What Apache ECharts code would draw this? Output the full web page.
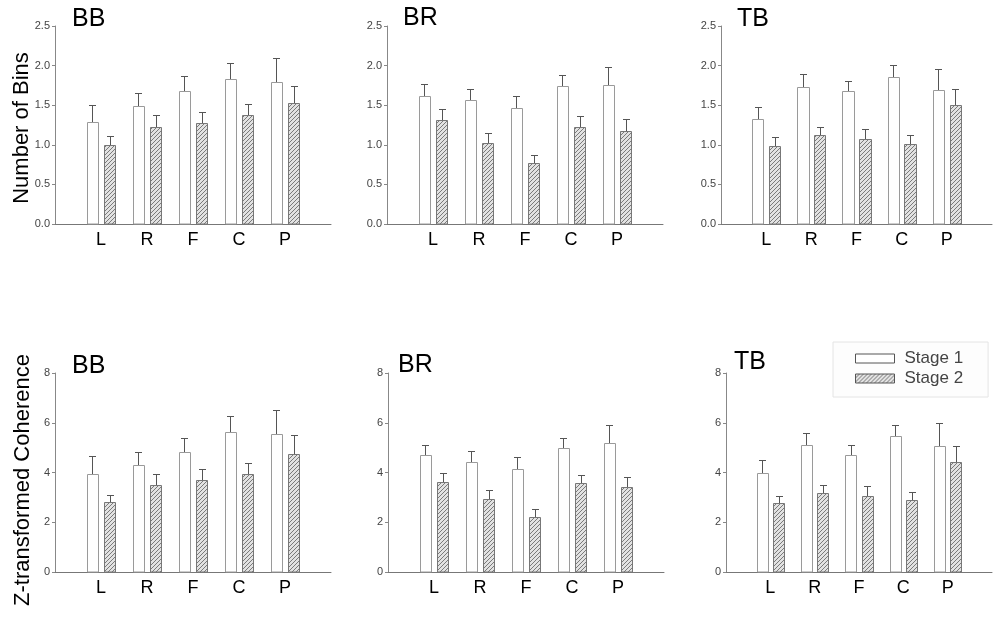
<!DOCTYPE html>
<html>
<head>
<meta charset="utf-8">
<script src="https://cdn.jsdelivr.net/npm/echarts@6/dist/echarts.min.js"></script>
<style>html,body{margin:0;padding:0;background:#fff;}#c{width:995px;height:620px;}</style>
</head>
<body>
<div id="c"></div>
<script>
// ---------- data ----------
const categories = ['L', 'R', 'F', 'C', 'P'];
const panelNames = ['BB', 'BR', 'TB'];
const seriesNames = ['Stage 1', 'Stage 2'];

// Top row: Number of Bins (mean, standard error)
const binsBBStage1 = [1.29, 1.49, 1.68, 1.83, 1.79];
const binsBBStage1Err = [0.21, 0.17, 0.19, 0.20, 0.30];
const binsBBStage2 = [1.00, 1.22, 1.27, 1.38, 1.53];
const binsBBStage2Err = [0.11, 0.15, 0.15, 0.14, 0.21];

const binsBRStage1 = [1.62, 1.56, 1.47, 1.74, 1.75];
const binsBRStage1Err = [0.15, 0.14, 0.15, 0.14, 0.23];
const binsBRStage2 = [1.31, 1.02, 0.77, 1.23, 1.18];
const binsBRStage2Err = [0.14, 0.13, 0.10, 0.13, 0.14];

const binsTBStage1 = [1.32, 1.73, 1.68, 1.86, 1.69];
const binsTBStage1Err = [0.16, 0.16, 0.13, 0.15, 0.27];
const binsTBStage2 = [0.99, 1.12, 1.07, 1.01, 1.50];
const binsTBStage2Err = [0.11, 0.11, 0.13, 0.11, 0.21];

// Bottom row: Z-transformed Coherence (mean, standard error)
const cohBBStage1 = [3.94, 4.31, 4.82, 5.63, 5.55];
const cohBBStage1Err = [0.71, 0.51, 0.57, 0.63, 0.98];
const cohBBStage2 = [2.80, 3.49, 3.69, 3.95, 4.76];
const cohBBStage2Err = [0.31, 0.45, 0.46, 0.43, 0.73];

const cohBRStage1 = [4.69, 4.43, 4.16, 4.99, 5.18];
const cohBRStage1Err = [0.42, 0.44, 0.45, 0.40, 0.74];
const cohBRStage2 = [3.63, 2.92, 2.22, 3.56, 3.41];
const cohBRStage2Err = [0.36, 0.37, 0.30, 0.35, 0.42];

const cohTBStage1 = [3.98, 5.11, 4.72, 5.47, 5.07];
const cohTBStage1Err = [0.51, 0.46, 0.39, 0.43, 0.90];
const cohTBStage2 = [2.76, 3.17, 3.06, 2.88, 4.41];
const cohTBStage2Err = [0.31, 0.31, 0.39, 0.33, 0.64];

const binsTicks = [0, 0.5, 1.0, 1.5, 2.0, 2.5];
const cohTicks = [0, 2, 4, 6, 8];

// ---------- styling helpers ----------
const FONT = "'Liberation Sans', Arial, sans-serif";
function makeHatch() {
  const c = document.createElement('canvas');
  c.width = 4; c.height = 4;
  const g = c.getContext('2d');
  g.fillStyle = '#e2e2e2';
  g.fillRect(0, 0, 4, 4);
  g.strokeStyle = '#7a7a7a';
  g.lineWidth = 1;
  g.beginPath();
  g.moveTo(-1, 5); g.lineTo(5, -1);
  g.moveTo(-1, 1); g.lineTo(1, -1);
  g.moveTo(3, 5); g.lineTo(5, 3);
  g.stroke();
  return { image: c, repeat: 'repeat' };
}
const hatch = makeHatch();

const BAR_W = 0.25;
const OFFSET = 0.185;

function makeRender(offset, fill, stroke) {
  return function (params, api) {
    const x = api.value(0), y = api.value(1), e = api.value(2);
    const base = api.coord([x + offset, 0]);
    const top = api.coord([x + offset, y]);
    const cap = api.coord([x + offset, y + e]);
    const w = api.size([BAR_W, 0])[0];
    const left = Math.round(base[0] - w / 2) + 0.5;
    const right = Math.round(base[0] + w / 2) + 0.5;
    const cx = Math.round(base[0]) + 0.5;
    const ty = Math.round(top[1]) + 0.5;
    const by = Math.round(base[1]);
    const cy = Math.round(cap[1]) + 0.5;
    return {
      type: 'group',
      children: [
        { type: 'line', shape: { x1: cx, y1: ty, x2: cx, y2: cy }, style: { stroke: '#555', lineWidth: 1 } },
        { type: 'line', shape: { x1: cx - 3.5, y1: cy, x2: cx + 3.5, y2: cy }, style: { stroke: '#555', lineWidth: 1 } },
        { type: 'rect', shape: { x: left, y: ty, width: right - left, height: by - ty }, style: { fill: fill, stroke: stroke, lineWidth: 1 } }
      ]
    };
  };
}

// ---------- layout ----------
const grids = [
  { left: 55, top: 26, width: 276, height: 198 },
  { left: 387, top: 26, width: 276, height: 198 },
  { left: 721, top: 26, width: 276, height: 198 },
  { left: 55, top: 373, width: 276, height: 199 },
  { left: 388, top: 373, width: 276, height: 199 },
  { left: 726, top: 373, width: 273, height: 199 }
];

const panelData = [
  [binsBBStage1, binsBBStage1Err, binsBBStage2, binsBBStage2Err],
  [binsBRStage1, binsBRStage1Err, binsBRStage2, binsBRStage2Err],
  [binsTBStage1, binsTBStage1Err, binsTBStage2, binsTBStage2Err],
  [cohBBStage1, cohBBStage1Err, cohBBStage2, cohBBStage2Err],
  [cohBRStage1, cohBRStage1Err, cohBRStage2, cohBRStage2Err],
  [cohTBStage1, cohTBStage1Err, cohTBStage2, cohTBStage2Err]
];

const xAxes = [], yAxes = [], series = [];
panelData.forEach(function (pd, i) {
  const isTop = i < 3;
  const ticks = isTop ? binsTicks : cohTicks;
  xAxes.push({
    gridIndex: i, type: 'value', min: 0, max: 6, interval: 1,
    axisLine: { lineStyle: { color: '#777', width: 1 } },
    axisTick: { show: false },
    splitLine: { show: false },
    axisLabel: {
      margin: 7, fontSize: 18, color: '#000', fontFamily: FONT,
      formatter: function (v) { return categories[v - 1] || ''; }
    }
  });
  yAxes.push({
    gridIndex: i, type: 'value', min: ticks[0], max: ticks[ticks.length - 1],
    interval: ticks[1] - ticks[0],
    axisLine: { show: true, lineStyle: { color: '#888', width: 1 } },
    axisTick: { show: true, length: 3, lineStyle: { color: '#888' } },
    splitLine: { show: false },
    axisLabel: {
      margin: 5, fontSize: 11, color: '#444', fontFamily: FONT,
      formatter: function (v) { return isTop ? v.toFixed(1) : String(v); }
    }
  });
  const d1 = categories.map(function (c, k) { return [k + 1, pd[0][k], pd[1][k]]; });
  const d2 = categories.map(function (c, k) { return [k + 1, pd[2][k], pd[3][k]]; });
  series.push({
    name: seriesNames[0], type: 'custom', xAxisIndex: i, yAxisIndex: i,
    renderItem: makeRender(-OFFSET, '#fff', '#9a9a9a'),
    itemStyle: { color: '#fff', borderColor: '#666', borderWidth: 1 },
    data: d1, silent: true
  });
  series.push({
    name: seriesNames[1], type: 'custom', xAxisIndex: i, yAxisIndex: i,
    renderItem: makeRender(OFFSET, hatch, '#777'),
    itemStyle: { color: hatch, borderColor: '#555', borderWidth: 1 },
    data: d2, silent: true
  });
});

const titlePos = [[72, 7], [403, 6], [737, 7], [72, 354], [398, 353], [734, 350]];
const titles = titlePos.map(function (p, i) {
  return {
    text: panelNames[i % 3], left: p[0], top: p[1], padding: 0,
    textStyle: { fontSize: 25, fontWeight: 'normal', color: '#000', fontFamily: FONT }
  };
});

const option = {
  animation: false,
  backgroundColor: '#fff',
  title: titles,
  grid: grids,
  xAxis: xAxes,
  yAxis: yAxes,
  series: series,
  legend: {
    left: 833, top: 342,
    orient: 'vertical',
    icon: 'rect',
    itemWidth: 39, itemHeight: 9, itemGap: 3,
    padding: [8, 25, 10, 22],
    borderColor: '#e4e4e4', borderWidth: 1, backgroundColor: '#fdfdfd',
    selectedMode: false,
    textStyle: { fontSize: 17, color: '#444', fontFamily: FONT, padding: [0, 0, 0, 5] },
    data: [
      { name: 'Stage 1', itemStyle: { color: '#fff', borderColor: '#555', borderWidth: 1 } },
      { name: 'Stage 2', itemStyle: { color: hatch, borderColor: '#555', borderWidth: 1 } }
    ]
  },
  graphic: [
    { type: 'text', x: 22, y: 128, rotation: Math.PI / 2,
      style: { text: 'Number of Bins', fontSize: 22, fontFamily: FONT, fill: '#000', textAlign: 'center', textVerticalAlign: 'middle' } },
    { type: 'text', x: 23, y: 480, rotation: Math.PI / 2,
      style: { text: 'Z-transformed Coherence', fontSize: 22, fontFamily: FONT, fill: '#000', textAlign: 'center', textVerticalAlign: 'middle' } }
  ]
};

const chart = echarts.init(document.getElementById('c'), null, { renderer: 'canvas' });
chart.setOption(option);
</script>
</body>
</html>
